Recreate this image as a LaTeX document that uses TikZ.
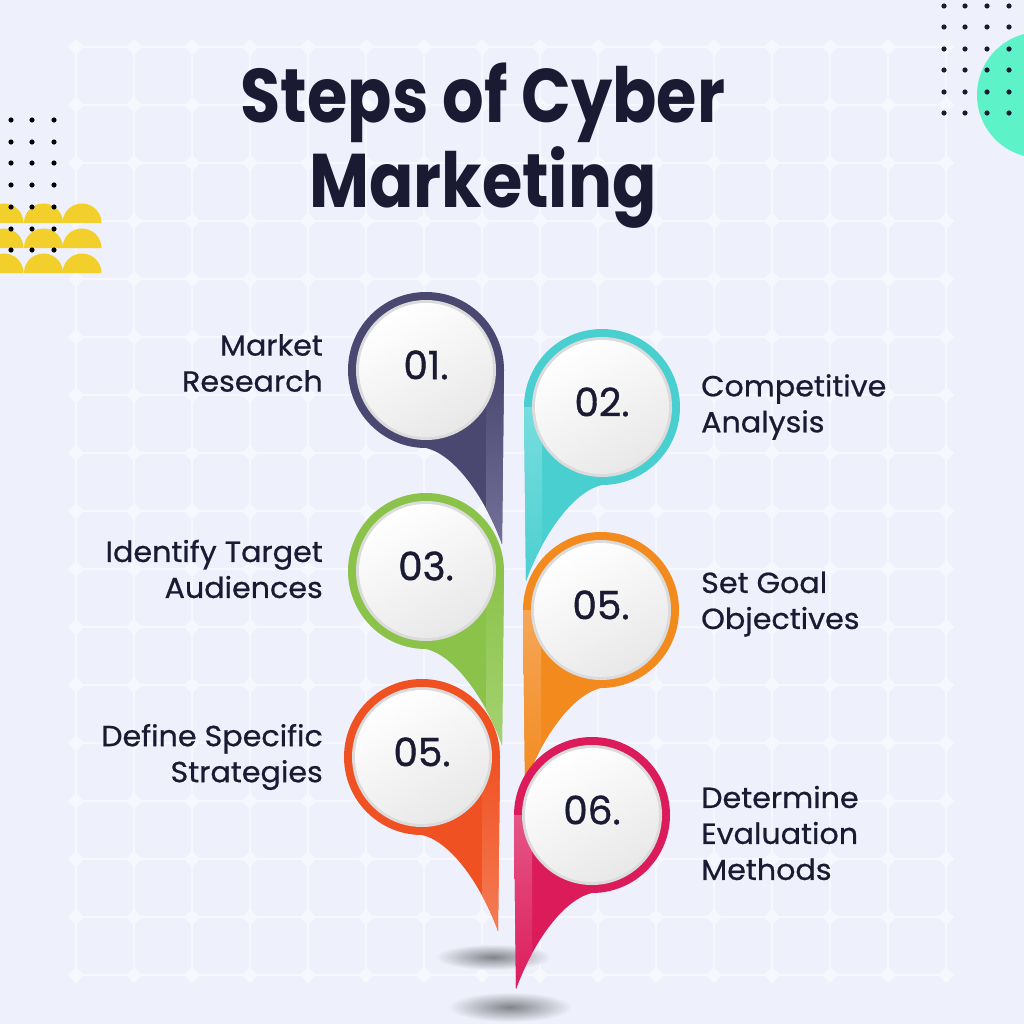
\documentclass[tikz,border=0pt]{standalone}
\usepackage{fontspec}
\setmainfont{Poppins}
\newfontfamily\titlefont{Poppins}[FakeStretch=0.86]
\newfontfamily\labelfont{Poppins}[FakeStretch=1.04, FakeBold=0.7]
\newfontfamily\numfont{Poppins}[FakeBold=1.0]
\definecolor{bg}{HTML}{EEF0FB}
\definecolor{gridc}{HTML}{F7F8FE}
\definecolor{navy}{HTML}{1B1A33}
\definecolor{sunny}{HTML}{F2CF2A}
\definecolor{mint}{HTML}{5EF2C8}
\definecolor{pinA}{HTML}{4A4870}\definecolor{pinAhl}{HTML}{75719A}
\definecolor{pinB}{HTML}{4ACFD0}\definecolor{pinBhl}{HTML}{78DDDE}
\definecolor{pinC}{HTML}{8BC34A}\definecolor{pinChl}{HTML}{A6D274}
\definecolor{pinD}{HTML}{F28A1E}\definecolor{pinDhl}{HTML}{F6A658}
\definecolor{pinE}{HTML}{F05122}\definecolor{pinEhl}{HTML}{F47E57}
\definecolor{pinF}{HTML}{DC1B5B}\definecolor{pinFhl}{HTML}{E55585}
\tikzset{
  gridline/.style={draw=gridc, line width=2pt},
  stepnum/.style={font=\numfont\fontsize{39}{39}\selectfont, text=navy, inner sep=0pt},
  leftlabel/.style={anchor=east, align=right, font=\labelfont\fontsize{29}{36}\selectfont, text=navy, inner sep=0pt},
  rightlabel/.style={anchor=west, align=left, font=\labelfont\fontsize{29}{36}\selectfont, text=navy, inner sep=0pt},
}
\begin{document}
\begin{tikzpicture}[x=1pt, y=1pt]
  \useasboundingbox (0,0) rectangle (1024,-1024);
  \fill[bg] (0,0) rectangle (1024,-1024);
  % grid
  \foreach \i in {0,...,15}
    \draw[gridline] ({76+58*\i},-47) -- ({76+58*\i},-975);
  \foreach \j in {0,...,16}
    \draw[gridline] (76,{-47-58*\j}) -- (946,{-47-58*\j});
  \foreach \i in {0,...,15}
    \foreach \j in {0,...,16}
      \fill[gridc] ({76+58*\i+8},{-47-58*\j}) -- ({76+58*\i},{-47-58*\j+8})
        -- ({76+58*\i-8},{-47-58*\j}) -- ({76+58*\i},{-47-58*\j-8}) -- cycle;
  % corner decorations
  \foreach \x in {4,43.5,82}
    \foreach \y in {223,248,273}
      \fill[sunny] ({\x-19.5},-\y) arc[start angle=180, end angle=0, radius=19.5] -- cycle;
  \foreach \x in {11,32,54}
    \foreach \y in {120,142,163,185,207,229,250}
      \fill[black] (\x,-\y) circle (2.6);
  \fill[mint] (1040,-95) circle (63);
  \foreach \x in {944,965,987,1009}
    \foreach \y in {6,27,49,70,92,113}
      \fill[navy] (\x,-\y) circle (2.6);
  % title
  \node[font=\titlefont\bfseries\fontsize{76}{85}\selectfont, text=navy, align=center, inner sep=0pt]
    (title) at (483,-146) {Steps of Cyber\\Marketing};
  % shadows
  \shade[inner color=black!45!bg, outer color=bg] (493,-957) ellipse[x radius=58, y radius=13];
  \shade[inner color=black!45!bg, outer color=bg] (510,-1007) ellipse[x radius=62, y radius=15];
  % pins
  \foreach \cx/\cy/\col/\s/\num/\name in {
      426/-370/pinA/1/01./1, 602/-407/pinB/-1/02./2, 426/-571/pinC/1/03./3,
      601/-610/pinD/-1/05./4, 422/-757/pinE/1/05./5, 592/-815/pinF/-1/06./6} {
    \begin{scope}
      \clip ({\cx+(\s)*76},{\cy-174}) -- ({\cx+(\s)*78},\cy)
        arc[start angle={90-90*\s}, end angle={90+180*\s}, radius=78]
        .. controls ({\cx+(\s)*30},{\cy-85}) and ({\cx+(\s)*60},{\cy-130}) .. ({\cx+(\s)*76},{\cy-174}) -- cycle;
      \fill[\col] (\cx-80,\cy+80) rectangle (\cx+80,\cy-180);
      \shade[left color=\col, right color=\col hl, shading angle={90-90*\s}]
        ({\cx+(\s)*60},\cy) rectangle ({\cx+(\s)*80},{\cy-180});
    \end{scope}
    \fill[black!14] (\cx,\cy) circle (70);
    \shade[top color=white, bottom color=black!9, shading angle=30] (\cx,\cy) circle (67);
    \node[stepnum] (n\name) at (\cx,\cy+5) {\num};
  }
  % labels
  \node[leftlabel] (l1) at (323,-363) {Market\\Research};
  \node[leftlabel] (l3) at (323,-569) {Identify Target\\Audiences};
  \node[leftlabel] (l5) at (323,-757) {Define Specific\\Strategies};
  \node[rightlabel] (l2) at (701,-407) {Competitive\\Analysis};
  \node[rightlabel] (l4) at (701,-604) {Set Goal\\Objectives};
  \node[rightlabel] (l6) at (701,-833) {Determine\\Evaluation\\Methods};
\end{tikzpicture}
\end{document}
